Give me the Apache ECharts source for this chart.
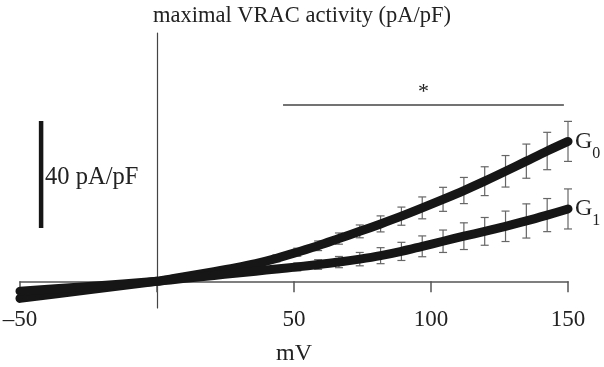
<!DOCTYPE html>
<html>
<head>
<meta charset="utf-8">
<script src="https://cdn.jsdelivr.net/npm/echarts@6/dist/echarts.min.js"></script>
<style>
  html, body { margin: 0; padding: 0; background: #fff; }
  #main { width: 604px; height: 367px; }
</style>
</head>
<body>
<div id="main"></div>
<script>
// membrane potential (mV) of each sampled point
var voltage = [-50, -25, 0, 5.6, 13.2, 20.8, 28.4, 36, 43.6, 51.2, 58.8, 66.4, 74, 81.6, 89.2, 96.8, 104.4, 112, 119.6, 127.2, 134.8, 142.4, 150];
// current density (pA/pF)
var g0Mean = [-6.4, -3.2, 0, 1.0, 2.3, 3.6, 5.0, 6.6, 8.6, 10.9, 13.3, 16.0, 18.7, 21.5, 24.4, 27.5, 30.7, 34.0, 37.5, 41.2, 45.0, 48.8, 52.4];
var g1Mean = [-3.7, -1.9, 0, 0.6, 1.4, 2.2, 3.0, 3.8, 4.6, 5.4, 6.3, 7.2, 8.3, 9.6, 11.2, 13.1, 15.0, 16.9, 18.7, 20.6, 22.6, 24.8, 27.1];
// s.e.m.
var g0Err = [0, 0, 0, 0.3, 0.5, 0.7, 0.9, 1.1, 1.3, 1.5, 1.8, 2.1, 2.4, 3.0, 3.4, 4.1, 4.5, 4.9, 5.4, 5.9, 6.4, 7.0, 7.5];
var g1Err = [0, 0, 0, 0.3, 0.5, 0.7, 0.9, 1.1, 1.3, 1.5, 1.8, 2.1, 2.5, 3.0, 3.4, 3.9, 4.2, 5.0, 5.2, 5.7, 6.4, 6.2, 7.5];

var xTicks = [-50, 0, 50, 100, 150];
var scaleBarX = -42.3;
var scaleBarRange = [20, 60];
var sigRange = [46, 148.5];
var sigLevel = 66;

var serif = "'Liberation Serif', 'DejaVu Serif', serif";

function pairs(ys) {
    var out = [];
    for (var i = 0; i < voltage.length; i++) {
        out.push([voltage[i], ys[i]]);
    }
    return out;
}

function errData(ys, es) {
    var out = [];
    for (var i = 0; i < voltage.length; i++) {
        if (voltage[i] > 0) out.push([voltage[i], ys[i] - es[i], ys[i] + es[i]]);
    }
    return out;
}

function renderErr(params, api) {
    var lo = api.coord([api.value(0), api.value(1)]);
    var hi = api.coord([api.value(0), api.value(2)]);
    var cap = 4;
    var st = { stroke: '#666', lineWidth: 1.2 };
    return {
        type: 'group',
        children: [
            { type: 'line', shape: { x1: lo[0], y1: lo[1], x2: hi[0], y2: hi[1] }, style: st },
            { type: 'line', shape: { x1: lo[0] - cap, y1: lo[1], x2: lo[0] + cap, y2: lo[1] }, style: st },
            { type: 'line', shape: { x1: hi[0] - cap, y1: hi[1], x2: hi[0] + cap, y2: hi[1] }, style: st }
        ]
    };
}

function curve(name, ys, sub) {
    return {
        name: name,
        type: 'line',
        data: pairs(ys),
        smooth: 0.3,
        symbol: 'none',
        clip: false,
        z: 5,
        lineStyle: { color: '#161616', width: 9, cap: 'round', join: 'round' },
        endLabel: {
            show: true,
            distance: 7,
            formatter: '{a|G}{b|' + sub + '}',
            rich: {
                a: { fontFamily: serif, fontSize: 24, color: '#222' },
                b: { fontFamily: serif, fontSize: 16, color: '#222', verticalAlign: 'bottom', padding: [0, 0, -8, 0] }
            }
        }
    };
}

var myChart = echarts.init(document.getElementById('main'));
myChart.setOption({
    animation: false,
    title: {
        text: 'maximal VRAC activity (pA/pF)',
        left: 'center',
        top: 0,
        textStyle: { fontFamily: serif, fontSize: 22.5, fontWeight: 'normal', color: '#222' }
    },
    grid: { left: 20, right: 36, top: 33, bottom: 59, containLabel: false, outerBoundsMode: 'none' },
    xAxis: {
        type: 'value',
        min: xTicks[0],
        max: xTicks[xTicks.length - 1],
        interval: 50,
        name: 'mV',
        nameLocation: 'middle',
        nameGap: 34,
        nameTextStyle: { fontFamily: serif, fontSize: 24, color: '#222' },
        axisLine: { onZero: true, lineStyle: { color: '#555', width: 1.5 } },
        axisTick: { show: true, length: 11, lineStyle: { color: '#555', width: 1.5 } },
        axisLabel: {
            margin: 0,
            fontFamily: serif,
            fontSize: 23,
            color: '#222',
            formatter: function (v) {
                if (v === 0) return '';
                return v < 0 ? '\u2013' + Math.abs(v) : String(v);
            }
        },
        splitLine: { show: false }
    },
    yAxis: {
        type: 'value',
        min: -10,
        max: 93,
        axisLine: { show: true, onZero: true, lineStyle: { color: '#444', width: 1.2 } },
        axisTick: { show: false },
        axisLabel: { show: false },
        splitLine: { show: false }
    },
    series: [
        { type: 'custom', name: 'G0 sem', data: errData(g0Mean, g0Err), renderItem: renderErr, z: 2 },
        { type: 'custom', name: 'G1 sem', data: errData(g1Mean, g1Err), renderItem: renderErr, z: 2 },
        curve('G0', g0Mean, '0'),
        curve('G1', g1Mean, '1'),
        {
            // scale bar
            type: 'line',
            data: [[scaleBarX, scaleBarRange[0]], [scaleBarX, scaleBarRange[1]]],
            symbol: 'none',
            lineStyle: { color: '#161616', width: 4.5 },
            z: 3
        },
        {
            // significance bracket
            type: 'line',
            data: [[sigRange[0], sigLevel], [sigRange[1], sigLevel]],
            symbol: 'none',
            lineStyle: { color: '#444', width: 1.5 },
            z: 3
        }
    ]
});

var barMid = myChart.convertToPixel('grid', [scaleBarX, (scaleBarRange[0] + scaleBarRange[1]) / 2]);
var sigMid = myChart.convertToPixel('grid', [(sigRange[0] + sigRange[1]) / 2, sigLevel]);
myChart.setOption({
    graphic: [
        {
            type: 'text',
            x: barMid[0] + 4,
            y: barMid[1] + 3,
            style: { text: '40 pA/pF', font: '24.5px ' + serif, fill: '#222', verticalAlign: 'middle' }
        },
        {
            type: 'text',
            x: sigMid[0],
            y: sigMid[1] - 13,
            style: { text: '*', font: '22px ' + serif, fill: '#222', align: 'center', verticalAlign: 'middle' }
        }
    ]
});
</script>
</body>
</html>
